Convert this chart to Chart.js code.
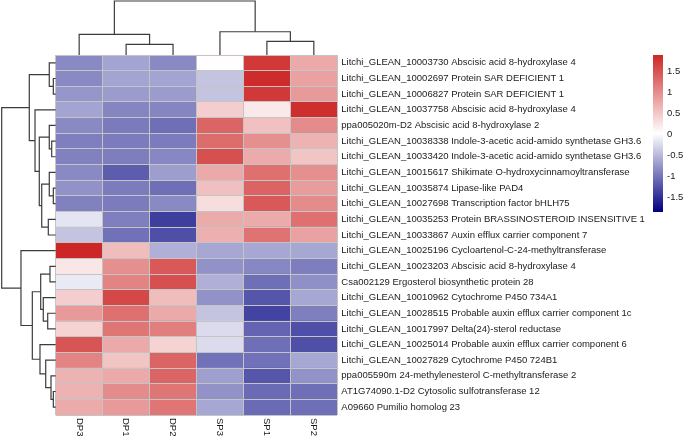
<!DOCTYPE html>
<html>
<head>
<meta charset="utf-8">
<script src="https://cdn.jsdelivr.net/npm/chart.js@4.4.0/dist/chart.umd.min.js"></script>
<style>
  html, body { margin: 0; padding: 0; background: #fff; }
  #wrap { position: relative; width: 685px; height: 437px; }
  #wrap canvas { position: absolute; left: 0; top: 0; }
</style>
</head>
<body>
<div id="wrap">
  <canvas id="heat" width="685" height="437"></canvas>
  <canvas id="colTree" width="685" height="437"></canvas>
  <canvas id="rowTree" width="685" height="437"></canvas>
  <canvas id="scaleBar" width="685" height="437"></canvas>
</div>
<script>
// samples (columns, in clustered order)
const samples = ['DP3', 'DP1', 'DP2', 'SP3', 'SP1', 'SP2'];

// genes (rows, in clustered order)
const genes = [
  'Litchi_GLEAN_10003730 Abscisic acid 8-hydroxylase 4',
  'Litchi_GLEAN_10002697 Protein SAR DEFICIENT 1',
  'Litchi_GLEAN_10006827 Protein SAR DEFICIENT 1',
  'Litchi_GLEAN_10037758 Abscisic acid 8-hydroxylase 4',
  'ppa005020m-D2 Abscisic acid 8-hydroxylase 2',
  'Litchi_GLEAN_10038338 Indole-3-acetic acid-amido synthetase GH3.6',
  'Litchi_GLEAN_10033420 Indole-3-acetic acid-amido synthetase GH3.6',
  'Litchi_GLEAN_10015617 Shikimate O-hydroxycinnamoyltransferase',
  'Litchi_GLEAN_10035874 Lipase-like PAD4',
  'Litchi_GLEAN_10027698 Transcription factor bHLH75',
  'Litchi_GLEAN_10035253 Protein BRASSINOSTEROID INSENSITIVE 1',
  'Litchi_GLEAN_10033867 Auxin efflux carrier component 7',
  'Litchi_GLEAN_10025196 Cycloartenol-C-24-methyltransferase',
  'Litchi_GLEAN_10023203 Abscisic acid 8-hydroxylase 4',
  'Csa002129 Ergosterol biosynthetic protein 28',
  'Litchi_GLEAN_10010962 Cytochrome P450 734A1',
  'Litchi_GLEAN_10028515 Probable auxin efflux carrier component 1c',
  'Litchi_GLEAN_10017997 Delta(24)-sterol reductase',
  'Litchi_GLEAN_10025014 Probable auxin efflux carrier component 6',
  'Litchi_GLEAN_10027829 Cytochrome P450 724B1',
  'ppa005590m 24-methylenesterol C-methyltransferase 2',
  'AT1G74090.1-D2 Cytosolic sulfotransferase 12',
  'A09660 Pumilio homolog 23'
];

// row z-scores per sample (same order as genes)
const DP3 = [-0.85, -0.85, -0.75, -0.65, -0.85, -0.92, -0.91, -0.85, -0.78, -0.91, -0.18, -0.42, 1.88, 0.23, -0.14, 0.44, 0.89, 0.39, 1.48, 1.07, 0.67, 0.67, 0.74];
const DP1 = [-0.65, -0.65, -0.72, -0.88, -0.96, -0.95, -0.93, -1.17, -0.95, -0.95, -0.92, -1.02, 0.58, 0.98, 1.07, 1.59, 1.24, 1.19, 0.75, 0.51, 0.75, 1.01, 0.89];
const DP2 = [-0.85, -0.65, -0.72, -0.88, -1.04, -0.95, -0.86, -0.70, -1.04, -0.85, -1.40, -1.27, -0.57, 1.45, 1.52, 0.58, 0.75, 1.12, 0.39, 1.34, 1.34, 1.19, 1.20];
const SP3 = [0.03, -0.42, -0.42, 0.44, 1.34, 1.27, 1.52, 0.75, 0.56, 0.30, 0.74, 0.70, -0.63, -0.78, -0.57, -0.78, -0.42, -0.25, -0.25, -1.02, -0.69, -0.78, -0.63];
const SP1 = [1.72, 1.83, 1.72, 0.20, 0.55, 0.98, 0.74, 1.24, 1.36, 1.45, 0.74, 1.22, -0.63, -0.86, -1.04, -1.23, -1.36, -1.12, -1.04, -1.02, -1.23, -1.07, -1.07];
const SP2 = [0.75, 0.82, 0.89, 1.81, 1.01, 0.68, 0.51, 0.98, 0.87, 1.01, 1.24, 0.82, -0.63, -0.93, -0.80, -0.63, -0.92, -1.27, -1.27, -0.63, -0.78, -1.04, -1.04];
const values = [DP3, DP1, DP2, SP3, SP1, SP2];

// colour key
const legendMin = -1.85;
const legendMax = 1.88;
const legendTicks = [-1.5, -1, -0.5, 0, 0.5, 1, 1.5];

// dendrograms: [left, right, height]; negative = leaf (1-based display order), positive = earlier merge
const rowMerges = [
  [-2, -3, 0.44], [-1, 1, 1.19], [-6, -7, 0.74], [-5, 3, 1.19], [-9, -10, 0.44],
  [-8, 5, 1.19], [-11, -12, 1.37], [6, 7, 2.59], [4, 8, 3.04], [-4, 9, 3.83],
  [2, 10, 4.89], [-14, -15, 1.06], [-17, -18, 1.48], [-16, 13, 2.30], [12, 14, 2.78],
  [-22, -23, 0.44], [-21, 16, 0.87], [-20, 17, 1.85], [-19, 18, 2.91], [15, 19, 4.33],
  [-13, 20, 6.43], [11, 21, 10]
];
const colMerges = [[-2, -3, 1.98], [-1, 1, 3.83], [-5, -6, 2.54], [-4, 3, 4.31], [2, 4, 10]];

const navy = [0, 0, 128], white = [255, 255, 255], red = [205, 38, 38];
const textColor = '#1a1a1a';
const fontFamily = '"Liberation Sans", Arial, sans-serif';
const fontSize = 9.5;
const W = 685, H = 437;
const hm = { left: 55.7, right: 337.3, top: 55, bottom: 415 };

Chart.defaults.font.family = fontFamily;
Chart.defaults.font.size = fontSize;
Chart.defaults.color = textColor;
Chart.defaults.animation = false;
Chart.defaults.events = [];
Chart.defaults.plugins.legend.display = false;
Chart.defaults.plugins.tooltip.enabled = false;

function mix(a, b, t) {
  t = Math.max(0, Math.min(1, t));
  return 'rgb(' + a.map((c, i) => Math.round(c + (b[i] - c) * t)).join(',') + ')';
}
function heatColor(v) {
  const mid = (legendMin + legendMax) / 2;
  if (v <= mid) return mix(navy, white, (v - legendMin) / (mid - legendMin));
  return mix(white, red, (v - mid) / (legendMax - mid));
}

function dendroSegments(merges) {
  const pos = [], hgt = [], segs = [];
  const get = id => id < 0 ? { p: -id - 0.5, h: 0 } : { p: pos[id - 1], h: hgt[id - 1] };
  merges.forEach(([a, b, h], k) => {
    const A = get(a), B = get(b);
    segs.push([[A.h, A.p], [h, A.p], [h, B.p], [B.h, B.p]]);
    pos[k] = (A.p + B.p) / 2;
    hgt[k] = h;
  });
  return segs;
}

// heatmap
new Chart(document.getElementById('heat'), {
  type: 'bar',
  data: {
    labels: genes,
    datasets: samples.map((s, j) => ({
      label: s,
      data: values[j].map(() => [j, j + 1]),
      backgroundColor: values[j].map(heatColor),
      borderWidth: 0,
      barPercentage: 1,
      categoryPercentage: 1,
      grouped: false
    }))
  },
  options: {
    responsive: false,
    indexAxis: 'y',
    layout: { padding: { left: hm.left, top: hm.top, right: 0, bottom: 0 } },
    scales: {
      x: {
        type: 'linear', min: 0, max: samples.length, position: 'bottom',
        ticks: { display: false, stepSize: 1 },
        grid: { color: '#c4c4c4', lineWidth: 1, drawTicks: false, z: 1 },
        border: { display: false },
        afterFit: s => { s.height = H - hm.bottom; }
      },
      y: {
        type: 'category', position: 'right',
        ticks: { autoSkip: false, padding: 4, color: textColor, font: { size: fontSize } },
        grid: { color: '#c4c4c4', lineWidth: 1, drawTicks: false, offset: true, z: 1 },
        border: { display: false },
        afterFit: s => { s.width = W - hm.right; }
      }
    }
  },
  plugins: [{
    id: 'sampleLabels',
    afterDraw(chart) {
      const { ctx, chartArea, scales } = chart;
      ctx.save();
      ctx.fillStyle = textColor;
      ctx.font = fontSize + 'px ' + fontFamily;
      ctx.textAlign = 'left';
      ctx.textBaseline = 'middle';
      samples.forEach((s, j) => {
        ctx.save();
        ctx.translate(scales.x.getPixelForValue(j + 0.5), chartArea.bottom + 3);
        ctx.rotate(Math.PI / 2);
        ctx.fillText(s, 0, 0);
        ctx.restore();
      });
      ctx.restore();
    }
  }]
});

const treeLine = { showLine: true, pointRadius: 0, borderColor: '#3c3c3c', borderWidth: 1.2, fill: false, clip: false };

// column dendrogram
new Chart(document.getElementById('colTree'), {
  type: 'scatter',
  data: {
    datasets: dendroSegments(colMerges).map(seg => Object.assign({
      data: seg.map(([h, p]) => ({ x: p, y: h }))
    }, treeLine))
  },
  options: {
    responsive: false,
    layout: { padding: { left: hm.left, right: W - hm.right, top: 1, bottom: H - hm.top } },
    scales: {
      x: { type: 'linear', min: 0, max: samples.length, display: false },
      y: { type: 'linear', min: 0, max: 10, display: false }
    }
  }
});

// row dendrogram
new Chart(document.getElementById('rowTree'), {
  type: 'scatter',
  data: {
    datasets: dendroSegments(rowMerges).map(seg => Object.assign({
      data: seg.map(([h, p]) => ({ x: h, y: p }))
    }, treeLine))
  },
  options: {
    responsive: false,
    layout: { padding: { left: 1.7, right: W - hm.left, top: hm.top, bottom: H - hm.bottom } },
    scales: {
      x: { type: 'linear', min: 0, max: 10, reverse: true, display: false },
      y: { type: 'linear', min: 0, max: genes.length, reverse: true, display: false }
    }
  }
});

// colour key
new Chart(document.getElementById('scaleBar'), {
  type: 'bar',
  data: {
    labels: [''],
    datasets: [{
      data: [[legendMin, legendMax]],
      borderWidth: 0,
      barPercentage: 1,
      categoryPercentage: 1,
      backgroundColor: c => {
        const chart = c.chart;
        if (!chart.chartArea) return '#fff';
        const y = chart.scales.y;
        const g = chart.ctx.createLinearGradient(0, y.getPixelForValue(legendMin), 0, y.getPixelForValue(legendMax));
        g.addColorStop(0, mix(navy, navy, 0));
        g.addColorStop(0.5, mix(white, white, 0));
        g.addColorStop(1, mix(red, red, 0));
        return g;
      }
    }]
  },
  options: {
    responsive: false,
    layout: { padding: { left: 653, top: 55, right: 0, bottom: 225 } },
    scales: {
      x: { display: false },
      y: {
        type: 'linear', position: 'right', min: legendMin, max: legendMax,
        afterBuildTicks: s => { s.ticks = legendTicks.map(v => ({ value: v })); },
        ticks: { padding: 4, color: textColor, font: { size: fontSize }, callback: v => String(v) },
        grid: { display: false, drawTicks: false },
        border: { display: false },
        afterFit: s => { s.width = W - 663; }
      }
    }
  }
});
</script>
</body>
</html>
